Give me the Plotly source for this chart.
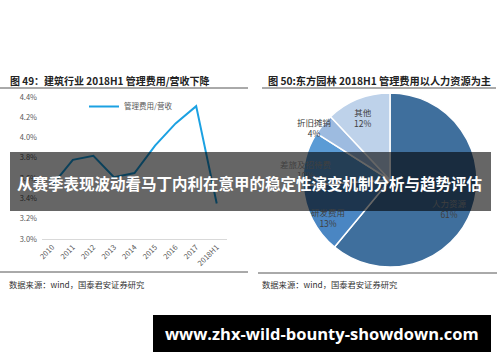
import plotly.graph_objects as go

# ---------------- data ----------------
years = ["2010", "2011", "2012", "2013", "2014", "2015", "2016", "2017", "2018H1"]
ratio = [3.53, 3.78, 3.82, 3.61, 3.65, 3.92, 4.14, 4.31, 3.35]
y_ticks = [3.0, 3.2, 3.4, 3.6, 3.8, 4.0, 4.2, 4.4]
series_name = "管理费用/营收"

pie_labels = ["人力资源", "研发费用", "差旅及招待费", "折旧摊销", "其他"]
pie_values = [61, 13, 10, 4, 12]

title_left = "图 49：建筑行业 2018H1 管理费用/营收下降"
title_right = "图 50:东方园林 2018H1 管理费用以人力资源为主"
source_text = "数据来源：wind，国泰君安证券研究"
banner_text = "从赛季表现波动看马丁内利在意甲的稳定性演变机制分析与趋势评估"
url_text = "www.zhx-wild-bounty-showdown.com"

# ---------------- styles / layout helpers ----------------
W, H = 500, 362
def px(x):
    return x / W
def py(y):
    return 1 - y / H

pie_colors = ["#3F6F9D", "#4A86C3", "#5B9BD5", "#9DBBE0", "#BED2EA"]
# label block centres (pixels) for pie annotations
pie_label_pos = [(449, 208), (328, 217), (306, 169), (314, 127), (363, 117)]

CJK = "Noto Sans CJK SC"

fig = go.Figure()

fig.add_trace(go.Scatter(
    x=years, y=ratio, mode="lines", name=series_name,
    line=dict(color="#1BA1E2", width=2),
    xaxis="x", yaxis="y", showlegend=True,
))

fig.add_trace(go.Pie(
    labels=pie_labels, values=pie_values, sort=False, direction="clockwise",
    rotation=0, marker=dict(colors=pie_colors, line=dict(color="white", width=1.5)),
    textinfo="none", hoverinfo="label+percent", showlegend=False,
    domain=dict(x=[px(303), px(477)], y=[py(267), py(93)]),
))

annotations = []
for lab, val, (lx, ly) in zip(pie_labels, pie_values, pie_label_pos):
    annotations.append(dict(
        x=px(lx), y=py(ly), xref="paper", yref="paper", showarrow=False,
        text=f"{lab}<br>{val}%", align="center",
        font=dict(family=CJK, size=8.5, color="#404040"),
        xanchor="center", yanchor="middle",
    ))

# titles
annotations.append(dict(x=px(8), y=py(80), xref="paper", yref="paper", showarrow=False,
                        text=f"<b>{title_left}</b>", xanchor="left", yanchor="middle",
                        font=dict(family=CJK, size=10, color="#222222")))
annotations.append(dict(x=px(266), y=py(80), xref="paper", yref="paper", showarrow=False,
                        text=f"<b>{title_right}</b>", xanchor="left", yanchor="middle",
                        font=dict(family=CJK, size=10.2, color="#222222")))
# sources
for sx in (7, 260):
    annotations.append(dict(x=px(sx), y=py(284), xref="paper", yref="paper", showarrow=False,
                            text=source_text, xanchor="left", yanchor="middle",
                            font=dict(family=CJK, size=8.3, color="#333333")))
# overlay banner text
annotations.append(dict(x=px(250), y=py(183), xref="paper", yref="paper", showarrow=False,
                        text=f"<b>{banner_text}</b>", xanchor="center", yanchor="middle",
                        font=dict(family=CJK, size=15.5, color="white")))
# url text
annotations.append(dict(x=px(322), y=py(333), xref="paper", yref="paper", showarrow=False,
                        text=f"<b>{url_text}</b>", xanchor="center", yanchor="middle",
                        font=dict(family="Open Sans", size=16.5, color="white")))

shapes = [
    # title underlines
    dict(type="line", xref="paper", yref="paper", x0=px(0), x1=px(248), y0=py(88), y1=py(88),
         line=dict(color="#555555", width=1)),
    dict(type="line", xref="paper", yref="paper", x0=px(262), x1=px(496), y0=py(88), y1=py(88),
         line=dict(color="#555555", width=1)),
    # source separators
    dict(type="line", xref="paper", yref="paper", x0=px(0), x1=px(248), y0=py(272), y1=py(272),
         line=dict(color="#555555", width=1)),
    dict(type="line", xref="paper", yref="paper", x0=px(258), x1=px(497), y0=py(273), y1=py(273),
         line=dict(color="#555555", width=1)),
    # dark translucent banner
    dict(type="rect", xref="paper", yref="paper", x0=px(10), x1=px(491), y0=py(211), y1=py(152),
         fillcolor="rgba(0,0,0,0.6)", line=dict(width=0), layer="above"),
    # url banner
    dict(type="rect", xref="paper", yref="paper", x0=px(153), x1=px(491), y0=py(352), y1=py(315),
         fillcolor="black", line=dict(width=0), layer="above"),
]

fig.update_layout(
    width=W, height=H, margin=dict(l=0, r=0, t=0, b=0, autoexpand=False),
    paper_bgcolor="white", plot_bgcolor="white",
    xaxis=dict(domain=[px(42), px(227)], anchor="y", tickangle=-45, automargin=False,
               range=[-0.5, len(years) - 0.5],
               tickfont=dict(family=CJK, size=7.5, color="#595959"),
               showgrid=False, showline=True, linecolor="#D9D9D9", linewidth=1,
               ticks="", fixedrange=True),
    yaxis=dict(domain=[py(239), py(97)], anchor="x", range=[3.0, 4.4], automargin=False,
               tickvals=y_ticks, ticktext=[f"{v:.1f}%" for v in y_ticks],
               tickfont=dict(family=CJK, size=7.5, color="#595959"), ticklabelstandoff=4,
               showgrid=False, zeroline=False, showline=False, ticks="", fixedrange=True),
    legend=dict(x=px(84), y=py(92), xanchor="left", yanchor="top",
                font=dict(family=CJK, size=7.5, color="#595959"),
                bgcolor="rgba(0,0,0,0)", itemwidth=30),
    annotations=annotations,
    shapes=shapes,
)

fig.write_html("out.html", config={"displayModeBar": False},
               post_script="document.body.style.margin='0';")
